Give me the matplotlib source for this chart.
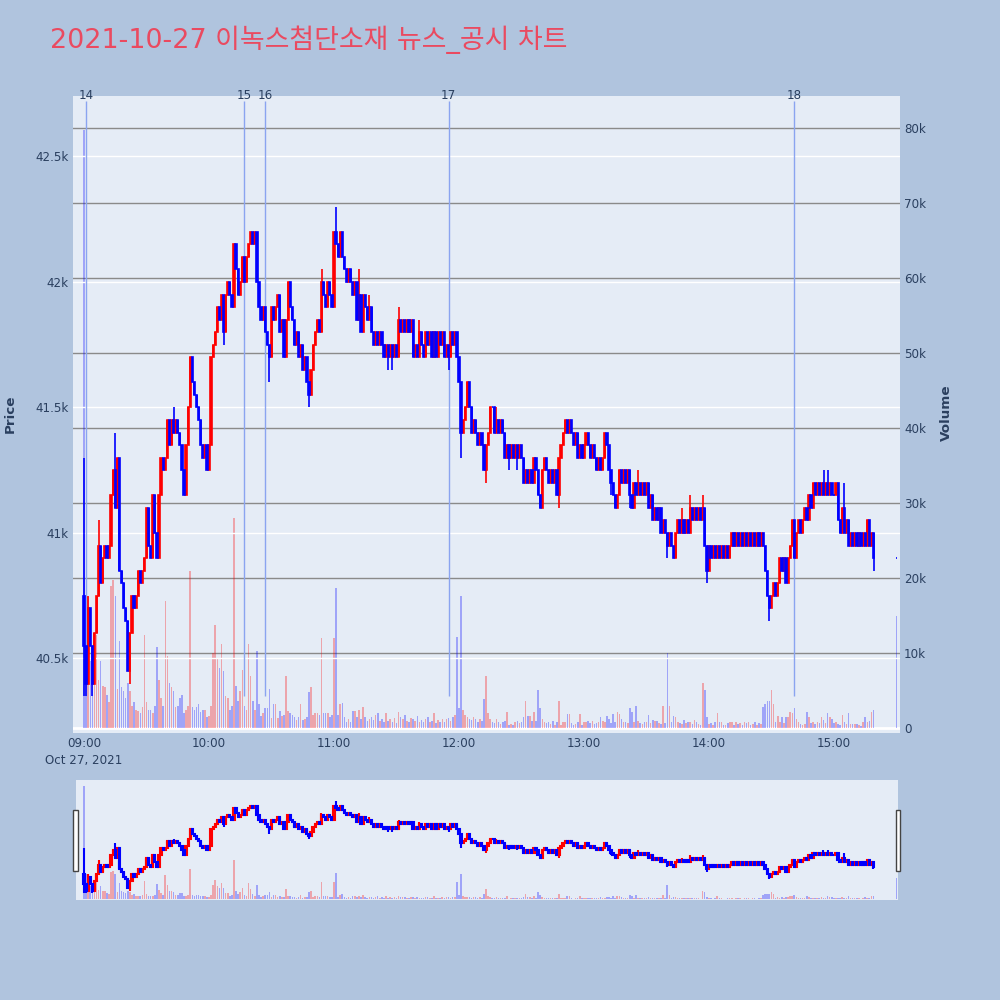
import numpy as np
import matplotlib
matplotlib.use("Agg")
import matplotlib.pyplot as plt
from matplotlib.patches import Rectangle
from matplotlib.ticker import FuncFormatter

# ---- one-minute closes (KRW), 09:00 .. 15:19 ----
first_open = 40750
close_09 = [40550, 40400, 40700, 40550, 40400, 40600, 40750, 40950, 40800, 40900,
            40950, 40900, 40950, 41150, 41250, 41100, 41300, 40850, 40800, 40700,
            40650, 40450, 40600, 40750, 40700, 40750, 40850, 40800, 40850, 40900,
            41100, 40950, 40900, 41150, 41000, 40900, 41150, 41300, 41250, 41300,
            41450, 41350, 41450, 41400, 41450, 41400, 41350, 41250, 41150, 41350,
            41500, 41700, 41600, 41550, 41500, 41450, 41350, 41300, 41350, 41250]
close_10 = [41350, 41700, 41750, 41800, 41900, 41850, 41950, 41800, 41950, 42000,
            41950, 41900, 42150, 42050, 41950, 42000, 42100, 42000, 42100, 42150,
            42200, 42150, 42200, 42000, 41900, 41850, 41900, 41800, 41750, 41700,
            41900, 41850, 41900, 41950, 41800, 41850, 41700, 41850, 42000, 41900,
            41850, 41750, 41800, 41700, 41750, 41650, 41700, 41600, 41550, 41650,
            41750, 41800, 41850, 41800, 42000, 41950, 41900, 42000, 41950, 41900]
close_11 = [42200, 42150, 42100, 42200, 42100, 42050, 42000, 42050, 42000, 41950,
            42000, 41850, 41950, 41800, 41950, 41900, 41850, 41900, 41800, 41750,
            41800, 41750, 41800, 41750, 41700, 41750, 41700, 41750, 41700, 41750,
            41700, 41850, 41800, 41850, 41800, 41850, 41800, 41850, 41700, 41750,
            41700, 41800, 41750, 41700, 41800, 41750, 41800, 41700, 41800, 41700,
            41800, 41750, 41800, 41700, 41750, 41700, 41800, 41750, 41800, 41700]
close_12 = [41600, 41400, 41450, 41500, 41600, 41500, 41400, 41450, 41400, 41350,
            41400, 41350, 41250, 41350, 41400, 41500, 41500, 41400, 41450, 41400,
            41450, 41400, 41300, 41350, 41300, 41350, 41300, 41350, 41300, 41350,
            41300, 41200, 41250, 41200, 41250, 41200, 41300, 41250, 41150, 41100,
            41250, 41300, 41250, 41200, 41250, 41200, 41250, 41150, 41300, 41350,
            41400, 41450, 41400, 41450, 41400, 41350, 41400, 41300, 41350, 41300]
close_13 = [41350, 41400, 41350, 41300, 41350, 41300, 41250, 41300, 41250, 41300,
            41400, 41350, 41250, 41200, 41150, 41100, 41150, 41250, 41200, 41250,
            41200, 41250, 41150, 41100, 41200, 41150, 41200, 41150, 41200, 41150,
            41200, 41100, 41150, 41050, 41100, 41050, 41100, 41000, 41050, 41000,
            40950, 41000, 40950, 40900, 41000, 41050, 41000, 41050, 41000, 41050,
            41000, 41100, 41050, 41100, 41050, 41100, 41050, 41100, 40950, 40850]
close_14 = [40950, 40900, 40950, 40900, 40950, 40900, 40950, 40900, 40950, 40900,
            40950, 41000, 40950, 41000, 40950, 41000, 40950, 41000, 40950, 41000,
            40950, 41000, 40950, 41000, 40950, 41000, 40950, 40850, 40750, 40700,
            40750, 40800, 40750, 40800, 40900, 40850, 40900, 40800, 40900, 40950,
            41050, 40900, 41000, 41050, 41000, 41050, 41100, 41050, 41150, 41100,
            41200, 41150, 41200, 41150, 41200, 41150, 41200, 41150, 41200, 41150]
close_15 = [41150, 41200, 41050, 41000, 41100, 41000, 41050, 40950, 41000, 40950,
            41000, 40950, 41000, 40950, 41000, 40950, 41050, 40950, 41000, 40900]

# wick extremes that go beyond the candle body {minute: price}
high_wicks = {0: 41300, 2: 40750, 7: 41050, 15: 41400, 43: 41500, 114: 42050,
              121: 42300, 132: 42050, 137: 41950, 151: 41900, 161: 41850,
              198: 41500, 266: 41250, 271: 41200, 287: 41100, 291: 41150,
              297: 41150, 355: 41250, 357: 41250, 365: 41200}
low_wicks = {0: 40350, 1: 40350, 4: 40350, 22: 40400, 67: 41750, 89: 41600,
             108: 41500, 146: 41650, 148: 41650, 175: 41650, 181: 41300,
             193: 41200, 204: 41250, 208: 41250, 228: 41100, 253: 41150,
             262: 41100, 280: 40900, 299: 40800, 329: 40650, 379: 40850}

# ---- one-minute volume ----
vol_09 = [79700, 17800, 17500, 9000, 6800, 9000, 12500, 6500, 9000, 5700,
          5500, 4500, 3500, 19000, 19800, 17600, 5200, 11600, 5500, 5000,
          4000, 6000, 5000, 3000, 3500, 2500, 2300, 2000, 2800, 12500,
          3500, 2500, 2500, 2000, 3000, 10800, 6500, 4000, 3000, 17000,
          9700, 6000, 5500, 5000, 2800, 3000, 4000, 4500, 2000, 2500,
          3000, 21000, 2800, 2500, 2800, 3200, 2200, 2500, 2400, 1500]
vol_10 = [1600, 3000, 10000, 13800, 9400, 8000, 11300, 7600, 4300, 4000,
          2500, 3000, 28000, 5700, 3600, 5000, 7800, 3000, 2500, 11300,
          7000, 3600, 2500, 10300, 3200, 1600, 2000, 2700, 2700, 5300,
          1400, 3200, 3200, 1400, 2300, 1600, 1800, 7000, 2300, 2000,
          1800, 1500, 1100, 1500, 3200, 1100, 1300, 1500, 4800, 5500,
          1800, 2000, 2000, 1800, 12000, 2100, 2100, 2000, 1500, 1800]
vol_11 = [12000, 18700, 1800, 3200, 3400, 1500, 900, 1200, 900, 2300,
          2300, 1500, 2500, 1200, 2900, 1500, 1000, 1200, 1500, 1100,
          1800, 2000, 1000, 1200, 800, 2000, 1000, 1300, 900, 1400,
          700, 2200, 1500, 1200, 1800, 1000, 900, 1400, 1200, 1000,
          1700, 800, 1100, 900, 1200, 1500, 900, 1000, 2000, 700,
          1100, 900, 1300, 800, 1200, 1400, 1000, 1500, 1800, 12200]
vol_12 = [2700, 17700, 2500, 1800, 1500, 1300, 1100, 1500, 1200, 900,
          1300, 1000, 3900, 7000, 2000, 1200, 800, 700, 1300, 800,
          600, 900, 1000, 2200, 400, 600, 500, 800, 1000, 700,
          800, 1500, 3700, 1700, 1700, 1000, 2200, 1000, 5100, 2700,
          1200, 800, 700, 800, 600, 1000, 500, 900, 3700, 500,
          800, 800, 1900, 1900, 700, 400, 600, 900, 1900, 500]
vol_13 = [900, 800, 1000, 700, 1000, 600, 700, 900, 1500, 1000,
          800, 1700, 1200, 700, 1900, 800, 2200, 1900, 1200, 800,
          900, 700, 2700, 2200, 800, 3000, 1000, 700, 600, 800,
          900, 1800, 700, 1100, 1000, 1000, 700, 600, 3000, 700,
          10000, 3000, 900, 1600, 1500, 800, 700, 600, 1100, 700,
          900, 800, 600, 1100, 800, 600, 400, 6000, 5100, 1500]
vol_14 = [600, 700, 400, 900, 2000, 800, 800, 400, 400, 700,
          900, 800, 400, 900, 600, 700, 400, 900, 700, 800,
          400, 600, 900, 400, 700, 600, 2900, 3300, 3600, 3600,
          5100, 3300, 800, 1600, 900, 1500, 700, 1500, 1500, 2200,
          2000, 2700, 1300, 800, 600, 500, 600, 2200, 1500, 700,
          800, 600, 800, 700, 1500, 1100, 700, 2100, 1500, 1300]
vol_15 = [700, 800, 600, 500, 1800, 800, 600, 2000, 600, 600,
          600, 600, 500, 300, 800, 1500, 800, 1000, 2200, 2500]

# closing single-price auction at 15:30
auction_minute = 390
auction_price = 40900
auction_volume = 15000

# news / disclosure markers
news_minutes = [1, 77, 87, 175, 341]
news_labels = ["14", "15", "16", "17", "18"]

hour_ticks = [0, 60, 120, 180, 240, 300, 360]
hour_labels = ["09:00\nOct 27, 2021", "10:00", "11:00", "12:00", "13:00", "14:00", "15:00"]
price_ticks = [40500, 41000, 41500, 42000, 42500]
volume_ticks = [0, 10000, 20000, 30000, 40000, 50000, 60000, 70000, 80000]

title = "2021-10-27 이녹스첨단소재 뉴스_공시 차트"

# ---- styling ----
FIG_BG = "#B0C4DE"
PLOT_BG = "#E5ECF6"
TXT = "#2a3f5f"
RED = "#FF0000"
BLUE = "#0000FF"
NEWS = "#8AA4F0"
TICK_FS = 8.6

# ---- assemble OHLC ----
closes = np.array(close_09 + close_10 + close_11 + close_12 + close_13 + close_14 + close_15, dtype=float)
minutes = np.arange(len(closes), dtype=float)
opens = np.concatenate([[first_open], closes[:-1]])
highs = np.maximum(opens, closes)
lows = np.minimum(opens, closes)
for m, p in high_wicks.items():
    highs[m] = max(highs[m], p)
for m, p in low_wicks.items():
    lows[m] = min(lows[m], p)
volumes = np.array(vol_09 + vol_10 + vol_11 + vol_12 + vol_13 + vol_14 + vol_15, dtype=float)

minutes = np.append(minutes, auction_minute)
opens = np.append(opens, auction_price)
closes = np.append(closes, auction_price)
highs = np.append(highs, auction_price)
lows = np.append(lows, auction_price)
volumes = np.append(volumes, auction_volume)

up = closes > opens


def draw_candles(ax, lw):
    for mask, col in ((up, RED), (~up, BLUE)):
        ax.vlines(minutes[mask], lows[mask], highs[mask], color=col, lw=lw, zorder=3)
        ax.bar(minutes[mask], np.abs(closes - opens)[mask], 0.6,
               bottom=np.minimum(opens, closes)[mask], color=col,
               edgecolor=col, linewidth=lw, zorder=4)


def draw_volume(ax):
    cols = np.where(up, RED, BLUE)
    ax.bar(minutes, volumes, 0.75, color=cols, alpha=0.3, linewidth=0, zorder=2)


def k_fmt(v, _):
    if v == 0:
        return "0"
    s = f"{v / 1000:.1f}".rstrip("0").rstrip(".")
    return s + "k"


fig = plt.figure(figsize=(10, 10), dpi=100, facecolor=FIG_BG)

# ---- main panel ----
ax_vol = fig.add_axes([0.073, 0.267, 0.827, 0.637])
ax_vol.set_facecolor(PLOT_BG)
ax_p = ax_vol.twinx()
for a in (ax_vol, ax_p):
    for s in a.spines.values():
        s.set_visible(False)

ax_vol.set_xlim(-5.3, 391.7)
ax_vol.set_ylim(-600, 84270)
ax_p.set_ylim(40203, 42741)

for v in volume_ticks[1:]:
    ax_vol.axhline(v, color="#8a8a8a", lw=1.0, zorder=1)
ax_vol.axhline(0, color="white", lw=2.0, zorder=1)
for p in price_ticks:
    ax_p.axhline(p, color="white", lw=1.0, zorder=0.5)

draw_volume(ax_vol)
ax_p.vlines(news_minutes, lows.min(), highs.max() * 1.01, color=NEWS, lw=1.0, zorder=2)
for m, lab in zip(news_minutes, news_labels):
    ax_p.text(m, 42741, lab, ha="center", va="center", fontsize=TICK_FS,
              color=TXT, clip_on=False)
draw_candles(ax_p, lw=1.2)

ax_vol.yaxis.tick_right()
ax_vol.set_yticks(volume_ticks)
ax_vol.yaxis.set_major_formatter(FuncFormatter(k_fmt))
ax_p.yaxis.tick_left()
ax_p.set_yticks(price_ticks)
ax_p.yaxis.set_major_formatter(FuncFormatter(k_fmt))
ax_vol.set_xticks(hour_ticks)
ax_vol.set_xticklabels(hour_labels, linespacing=1.4)
for a in (ax_vol, ax_p):
    a.tick_params(length=0, labelsize=TICK_FS, labelcolor=TXT, pad=3)

fig.text(0.010, 0.586, "Price", rotation=90, ha="center", va="center",
         fontsize=9.7, fontweight="bold", color=TXT)
fig.text(0.9465, 0.587, "Volume", rotation=90, ha="center", va="center",
         fontsize=9.7, fontweight="bold", color=TXT)
fig.text(0.050, 0.960, title, ha="left", va="center", fontsize=19.4, color="#EA4A60",
         family=["DejaVu Sans", "Noto Sans CJK KR"])

# ---- range slider ----
ax_s = fig.add_axes([0.076, 0.100, 0.822, 0.120])
ax_s.set_facecolor(PLOT_BG)
ax_s2 = ax_s.twinx()
for a in (ax_s, ax_s2):
    for s in a.spines.values():
        s.set_visible(False)
    a.set_xticks([])
    a.set_yticks([])
ax_s.set_xlim(-3.84, 390.8)
ax_s.set_ylim(-600, 84270)
ax_s2.set_ylim(40203, 42741)
draw_volume(ax_s)
draw_candles(ax_s2, lw=1.5)

for x0 in (0.0733, 0.8958):
    fig.add_artist(Rectangle((x0, 0.129), 0.0044, 0.061, transform=fig.transFigure,
                             facecolor="white", edgecolor="#444444", lw=1.0))

fig.savefig("out.png", dpi=100, facecolor=FIG_BG)
